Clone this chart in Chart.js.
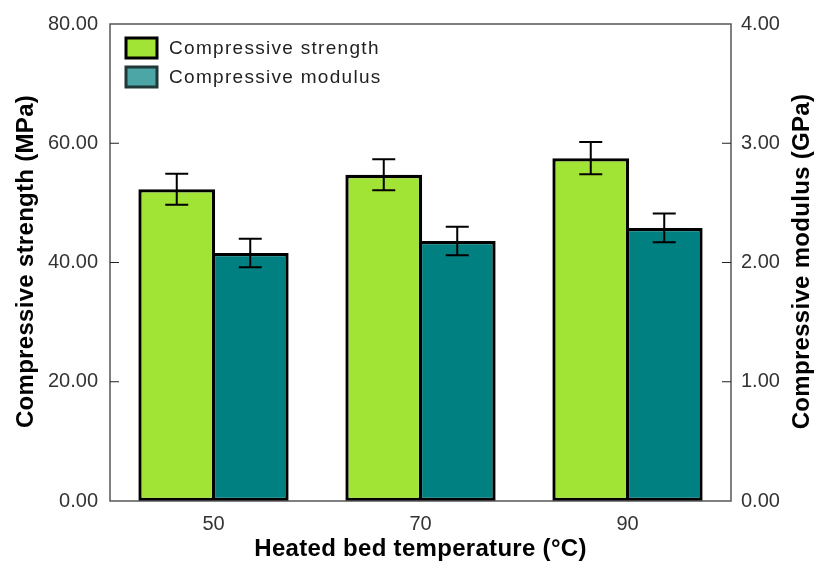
<!DOCTYPE html>
<html>
<head>
<meta charset="utf-8">
<script src="https://cdn.jsdelivr.net/npm/chart.js@4.4.0/dist/chart.umd.min.js"></script>
<style>
body { margin: 0; background: #fff; }
#wrap { width: 814px; height: 563px; }
</style>
</head>
<body>
<div id="wrap"><canvas id="myChart"></canvas></div>
<script>
const temps = ['50', '70', '90']
const strength = [52.3, 54.7, 57.5]
const strengthErr = [2.6, 2.6, 2.7]
const modulus = [2.08, 2.18, 2.29]
const modulusErr = [0.12, 0.12, 0.12]
const strengthTicks = [0, 20, 40, 60, 80]
const modulusTicks = [0, 1, 2, 3, 4]

const xTitle = 'Heated bed temperature (°C)'
const yTitle = 'Compressive strength (MPa)'
const y1Title = 'Compressive modulus (GPa)'

const green = '#a2e435'
const teal = '#008080'
const fam = '"Liberation Sans", Arial, sans-serif'

// error bars, drawn through the bar's own y scale
const errorBars = {
    id: 'errorBars',
    afterDatasetsDraw(chart) {
        const ctx = chart.ctx
        ctx.save()
        ctx.strokeStyle = '#000'
        ctx.lineWidth = 2
        chart.data.datasets.forEach((ds, i) => {
            const meta = chart.getDatasetMeta(i)
            const sc = chart.scales[ds.yAxisID]
            meta.data.forEach((bar, j) => {
                const yTop = sc.getPixelForValue(ds.data[j] + ds.errors[j])
                const yBot = sc.getPixelForValue(ds.data[j] - ds.errors[j])
                const x = bar.x
                ctx.beginPath()
                ctx.moveTo(x, yTop)
                ctx.lineTo(x, yBot)
                ctx.moveTo(x - 11.5, yTop)
                ctx.lineTo(x + 11.5, yTop)
                ctx.moveTo(x - 11.5, yBot)
                ctx.lineTo(x + 11.5, yBot)
                ctx.stroke()
            })
        })
        ctx.restore()
    }
}

// box around the plot, inward tick marks, axis titles
const frame = {
    id: 'frame',
    afterDraw(chart) {
        const ctx = chart.ctx
        const a = chart.chartArea
        ctx.save()
        ctx.strokeStyle = '#555'
        ctx.lineWidth = 1.5
        ctx.strokeRect(a.left, a.top, a.right - a.left, a.bottom - a.top)
        ctx.strokeStyle = '#222'
        ctx.lineWidth = 1.2
        ctx.beginPath()
        strengthTicks.slice(1, -1).forEach(v => {
            const y = chart.scales.y.getPixelForValue(v)
            ctx.moveTo(a.left, y)
            ctx.lineTo(a.left + 9, y)
        })
        modulusTicks.slice(1, -1).forEach(v => {
            const y = chart.scales.y1.getPixelForValue(v)
            ctx.moveTo(a.right, y)
            ctx.lineTo(a.right - 9, y)
        })
        ctx.stroke()

        // titles (both y titles read bottom to top)
        ctx.fillStyle = '#000'
        ctx.font = 'bold 24px ' + fam
        ctx.letterSpacing = '0.3px'
        ctx.textAlign = 'center'
        ctx.textBaseline = 'middle'
        const midY = (a.top + a.bottom) / 2
        ctx.fillText(xTitle, (a.left + a.right) / 2, 549)
        ;[[26, yTitle], [802, y1Title]].forEach(([x, t]) => {
            ctx.save()
            ctx.translate(x, midY)
            ctx.rotate(-Math.PI / 2)
            ctx.fillText(t, 1, 0)
            ctx.restore()
        })
        ctx.restore()
    }
}

// legend inside the plot, top left
const insideLegend = {
    id: 'insideLegend',
    afterDraw(chart) {
        const ctx = chart.ctx
        const a = chart.chartArea
        const boxes = [
            { fill: green, stroke: '#000' },
            { fill: 'rgba(0,128,128,0.7)', stroke: '#203838' }
        ]
        ctx.save()
        ctx.font = '19px ' + fam
        ctx.letterSpacing = '1.3px'
        ctx.textBaseline = 'middle'
        chart.data.datasets.forEach((ds, i) => {
            const x = a.left + 16
            const y = a.top + 14 + i * 29
            ctx.fillStyle = boxes[i].fill
            ctx.fillRect(x, y, 31, 20)
            ctx.strokeStyle = boxes[i].stroke
            ctx.lineWidth = 3
            ctx.strokeRect(x, y, 31, 20)
            ctx.fillStyle = '#222'
            ctx.fillText(ds.label, x + 43, y + 11)
        })
        ctx.restore()
    }
}

const datos = {
    labels: temps,
    datasets: [
        {
            label: 'Compressive strength',
            data: strength,
            errors: strengthErr,
            yAxisID: 'y',
            backgroundColor: green,
            borderColor: '#000',
            borderWidth: 3.3,
            borderSkipped: false,
            categoryPercentage: 0.71,
            barPercentage: 1.045
        },
        {
            label: 'Compressive modulus',
            data: modulus,
            errors: modulusErr,
            yAxisID: 'y1',
            backgroundColor: teal,
            borderColor: '#000',
            borderWidth: 3.3,
            borderSkipped: false,
            categoryPercentage: 0.71,
            barPercentage: 1.045
        }
    ]
}

const tickFont = { family: fam, size: 20 }

const ctx = document.getElementById('myChart')
const myChart = new Chart(ctx, {
    type: 'bar',
    data: datos,
    plugins: [errorBars, frame, insideLegend],
    options: {
        responsive: true,
        maintainAspectRatio: false,
        animation: false,
        layout: { padding: { top: 23, left: 0, right: 0, bottom: 0 } },
        plugins: {
            legend: { display: false },
            tooltip: { enabled: false }
        },
        scales: {
            x: {
                grid: { display: false, drawTicks: false },
                border: { display: false },
                ticks: { font: tickFont, color: '#333', padding: 11 },
                afterFit: s => { s.height = 62 }
            },
            y: {
                position: 'left',
                min: 0,
                max: 80,
                afterBuildTicks: s => { s.ticks = strengthTicks.map(v => ({ value: v })) },
                grid: { display: false, drawTicks: false },
                border: { display: false },
                ticks: { font: tickFont, color: '#333', padding: 12, callback: v => v.toFixed(2) },
                afterFit: s => { s.width = 110 }
            },
            y1: {
                position: 'right',
                min: 0,
                max: 4,
                afterBuildTicks: s => { s.ticks = modulusTicks.map(v => ({ value: v })) },
                grid: { display: false, drawTicks: false },
                border: { display: false },
                ticks: { font: tickFont, color: '#333', padding: 10, callback: v => v.toFixed(2) },
                afterFit: s => { s.width = 83 }
            }
        }
    }
})
</script>
</body>
</html>
